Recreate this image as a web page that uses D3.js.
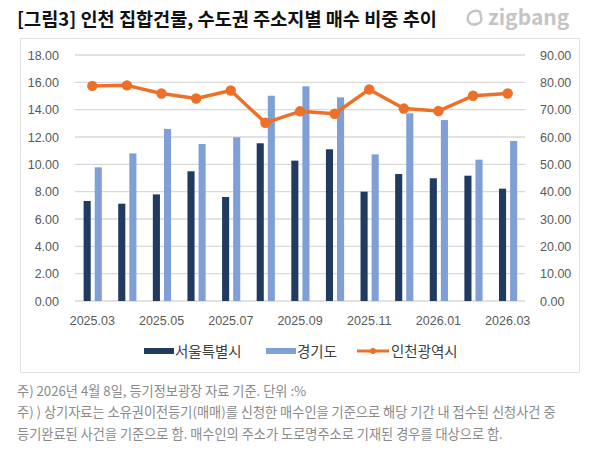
<!DOCTYPE html>
<html>
<head>
<meta charset="utf-8">
<title>인천 집합건물 매수 비중</title>
<script src="https://cdn.jsdelivr.net/npm/d3@7"></script>
<style>
  body { margin: 0; background: #fff; }
  svg text { font-family: "Noto Sans CJK KR", "Noto Sans", sans-serif; }
  .num { font-family: "Liberation Sans", Arial, sans-serif; }
</style>
</head>
<body>
<div id="chart"></div>
<script>
  // data
  var months   = ["2025.03","2025.04","2025.05","2025.06","2025.07","2025.08","2025.09",
                  "2025.10","2025.11","2025.12","2026.01","2026.02","2026.03"];
  var seoul    = [7.32, 7.12, 7.80, 9.49, 7.61, 11.54, 10.27, 11.10, 8.00, 9.29, 8.98, 9.17, 8.22];
  var gyeonggi = [9.78, 10.80, 12.59, 11.49, 11.98, 15.02, 15.71, 14.90, 10.73, 13.73, 13.24, 10.34, 11.71];
  var incheon  = [78.7, 78.9, 75.9, 74.1, 77.0, 65.2, 69.4, 68.5, 77.4, 70.4, 69.5, 75.1, 75.9];
  var leftTicks  = [0, 2, 4, 6, 8, 10, 12, 14, 16, 18];
  var rightTicks = [0, 10, 20, 30, 40, 50, 60, 70, 80, 90];
  var seriesNames = ["서울특별시", "경기도", "인천광역시"];
  var colours     = ["#203A60", "#7F9FD6", "#EE7028"];

  var width = 608, height = 452;
  var plot = {left: 75, right: 525, top: 55, bottom: 301};

  var svg = d3.select("#chart").append("svg")
      .attr("width", width).attr("height", height);

  // title + logo
  svg.append("text").attr("x", 17).attr("y", 26)
      .attr("font-size", 18.6).attr("font-weight", "bold").attr("fill", "#111")
      .text("[그림3] 인천 집합건물, 수도권 주소지별 매수 비중 추이");

  var logo = svg.append("g").attr("transform", "translate(467,9)");
  logo.append("path")
      .attr("d", "M3,4 Q8,0 13,3 L14,8 Q16,13 10,15 Q4,17 1,12 Q0,7 3,4 Z")
      .attr("fill", "none").attr("stroke", "#c4c4c4").attr("stroke-width", 2.4)
      .attr("stroke-linejoin", "round");
  logo.append("text").attr("x", 21).attr("y", 16)
      .attr("font-family", "Inter, 'Noto Sans', sans-serif")
      .attr("font-size", 21).attr("font-weight", 600).attr("fill", "#c4c4c4")
      .text("zigbang");

  // chart frame
  svg.append("rect").attr("x", 20.5).attr("y", 38.5).attr("width", 559).attr("height", 334)
      .attr("fill", "none").attr("stroke", "#e0e0e0");

  var x = d3.scaleBand().domain(months).range([plot.left, plot.right]);
  var xs = d3.scaleBand().domain([0, 1]).range([-8.7, 9.5]).paddingInner(0.36);
  var yL = d3.scaleLinear().domain([0, 18]).range([plot.bottom, plot.top]);
  var yR = d3.scaleLinear().domain([0, 90]).range([plot.bottom, plot.top]);

  // grid
  svg.append("g").selectAll("line").data(leftTicks).join("line")
      .attr("x1", plot.left).attr("x2", plot.right)
      .attr("y1", d => yL(d)).attr("y2", d => yL(d))
      .attr("stroke", "#d9d9d9").attr("stroke-width", 1.3);

  // axes
  var axL = svg.append("g").attr("transform", "translate(" + (plot.left - 13) + ",0)")
      .call(d3.axisLeft(yL).tickValues(leftTicks).tickFormat(d3.format(".2f")).tickSize(0));
  var axR = svg.append("g").attr("transform", "translate(" + (plot.right + 12) + ",0)")
      .call(d3.axisRight(yR).tickValues(rightTicks).tickFormat(d3.format(".2f")).tickSize(0));
  var axX = svg.append("g").attr("transform", "translate(0," + (plot.bottom + 12) + ")")
      .call(d3.axisBottom(x).tickValues(months.filter((m, i) => i % 2 == 0)).tickSize(0));
  [axL, axR, axX].forEach(function(ax) {
    ax.select(".domain").remove();
    ax.selectAll("text").attr("class", "num").attr("font-size", 12.5).attr("fill", "#595959");
  });
  axL.selectAll("text").attr("dx", 0);
  axR.selectAll("text").attr("dx", 0);

  // bars
  [seoul, gyeonggi].forEach(function(vals, s) {
    svg.append("g").selectAll("rect").data(vals).join("rect")
        .attr("x", (d, i) => x(months[i]) + x.bandwidth() / 2 + xs(s))
        .attr("width", xs.bandwidth())
        .attr("y", d => yL(d))
        .attr("height", d => yL(0) - yL(d))
        .attr("fill", colours[s]);
  });

  // line on the right axis
  var line = d3.line()
      .x((d, i) => x(months[i]) + x.bandwidth() / 2)
      .y(d => yR(d));
  svg.append("path").datum(incheon).attr("d", line)
      .attr("fill", "none").attr("stroke", colours[2]).attr("stroke-width", 3.5)
      .attr("stroke-linejoin", "round");
  svg.append("g").selectAll("circle").data(incheon).join("circle")
      .attr("cx", (d, i) => x(months[i]) + x.bandwidth() / 2)
      .attr("cy", d => yR(d)).attr("r", 5.2)
      .attr("fill", colours[2]);

  // legend
  var legendX = [144, 266, 357];
  var leg = svg.append("g").attr("transform", "translate(0,351)");
  seriesNames.forEach(function(name, i) {
    var g = leg.append("g").attr("transform", "translate(" + legendX[i] + ",0)");
    if (i < 2) {
      g.append("rect").attr("x", 0).attr("y", -3).attr("width", 30).attr("height", 6)
          .attr("fill", colours[i]);
    } else {
      g.append("line").attr("x1", 0).attr("x2", 32).attr("y1", 0).attr("y2", 0)
          .attr("stroke", colours[i]).attr("stroke-width", 3);
      g.append("circle").attr("cx", 16).attr("cy", 0).attr("r", 3).attr("fill", colours[i]);
    }
    g.append("text").attr("x", i < 2 ? 31 : 34).attr("y", 5.5)
        .attr("font-size", 14.5).attr("fill", "#404040").text(name);
  });

  // footnotes
  var notes = [
    "주) 2026년 4월 8일, 등기정보광장 자료 기준. 단위 :%",
    "주) ) 상기자료는 소유권이전등기(매매)를 신청한 매수인을 기준으로 해당 기간 내 접수된 신청사건 중",
    "등기완료된 사건을 기준으로 함. 매수인의 주소가 도로명주소로 기재된 경우를 대상으로 함."
  ];
  var noteY = [395.5, 417, 438.5];
  svg.append("g").selectAll("text").data(notes).join("text")
      .attr("x", 17).attr("y", (d, i) => noteY[i])
      .attr("font-size", 13.2).attr("fill", "#8a8a8a")
      .text(d => d);
</script>
</body>
</html>
